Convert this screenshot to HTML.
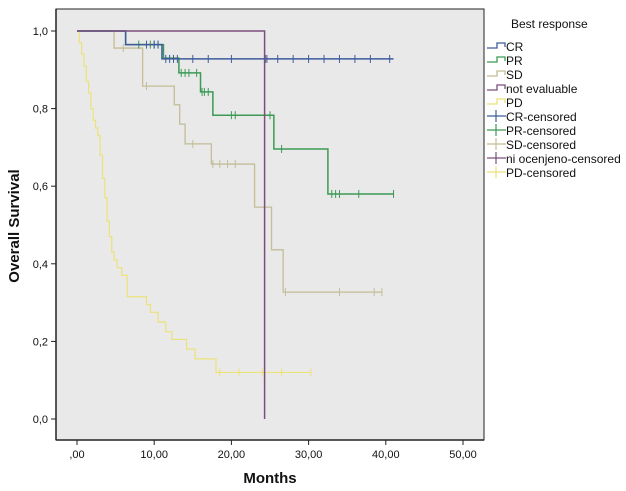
<!DOCTYPE html>
<html><head><meta charset="utf-8"><style>
html,body{margin:0;padding:0;background:#fff;}
svg{display:block;font-family:"Liberation Sans",sans-serif;}
</style></head><body>
<svg id="chart" width="626" height="491" xmlns="http://www.w3.org/2000/svg">
<rect x="56" y="9" width="428" height="431" fill="#e9e9e9" stroke="#222" stroke-width="1"/>
<g id="axes"></g>
<g id="series"></g>
<text transform="translate(19,226) rotate(-90)" text-anchor="middle" font-size="15" font-weight="bold" fill="#111">Overall Survival</text>
<text x="270" y="483" text-anchor="middle" font-size="15" font-weight="bold" fill="#111">Months</text>
<g id="legend"></g>
</svg>
<script>
const xTicks=[0,10,20,30,40,50];
const xTickLabels=[",00","10,00","20,00","30,00","40,00","50,00"];
const yTicks=[0,0.2,0.4,0.6,0.8,1.0];
const yTickLabels=["0,0","0,2","0,4","0,6","0,8","1,0"];
const crTimes=[0,6.3,11,41];
const crSurv=[1,0.965,0.928,0.928];
const crCensor=[9,10,10.5,11.5,12,12.5,13,15,17,20,24.4,24.6,26,28,30,32,34,36,38,40.5];
const prTimes=[0,6.3,11.2,13.2,16,17.6,25.5,32.5,41];
const prSurv=[1,0.965,0.93,0.892,0.843,0.783,0.696,0.58,0.58];
const prCensor=[8,9.5,10,10.5,13.5,14,14.5,15.5,16.2,16.5,17,20,20.5,25,26.5,33,33.5,34,36.5,41];
const sdTimes=[0,4.8,8.5,12.6,13.3,14,17.4,23,25.2,26.7,39.5];
const sdSurv=[1,0.956,0.858,0.81,0.76,0.709,0.657,0.546,0.436,0.327,0.327];
const sdCensor=[6,9,15,17.6,18.5,19.5,20.5,27,34,38.5,39.5];
const neTimes=[0,24.3,24.3];
const neSurv=[1,1,0];
const pdTimes=[0,0.3,0.6,0.9,1.2,1.5,1.8,2.1,2.4,2.7,3,3.3,3.6,3.9,4.2,4.5,4.8,5.2,5.8,6.5,9,9.5,10.5,11.5,12.3,14.2,15.3,18,30.3];
const pdSurv=[1,0.97,0.94,0.91,0.87,0.84,0.8,0.77,0.75,0.73,0.68,0.62,0.57,0.51,0.47,0.43,0.41,0.39,0.37,0.315,0.295,0.275,0.25,0.225,0.205,0.18,0.155,0.12,0.12];
const pdCensor=[18.5,21,24,26.5,30.3];

const NS="http://www.w3.org/2000/svg";
const X=v=>77+v*7.72;
const Y=v=>419-v*388;
function mk(tag,attrs,parent){const e=document.createElementNS(NS,tag);for(const k in attrs)e.setAttribute(k,attrs[k]);parent.appendChild(e);return e;}
const axes=document.getElementById('axes');
mk('line',{x1:56,y1:440,x2:484,y2:440,stroke:'#222','stroke-width':1.5},axes);
mk('line',{x1:56,y1:9,x2:56,y2:440,stroke:'#222','stroke-width':1.5},axes);
xTicks.forEach((t,i)=>{
 const l=mk('line',{x1:X(t),y1:440,x2:X(t),y2:445,stroke:'#222'},axes);
 
 
 const tx=mk('text',{x:X(t),y:458,'text-anchor':'middle','font-size':11,fill:'#111'},axes);
 tx.textContent=xTickLabels[i];
 
 
});
yTicks.forEach((t,i)=>{
 const l=mk('line',{x1:51,y1:Y(t),x2:56,y2:Y(t),stroke:'#222'},axes);
 
 
 const tx=mk('text',{x:48,y:Y(t)+4,'text-anchor':'end','font-size':11,fill:'#111'},axes);
 tx.textContent=yTickLabels[i];
 
 
});
function survAt(times,surv,t){let s=surv[0];for(let i=0;i<times.length;i++){if(times[i]<=t)s=surv[i];}return s;}
const series=document.getElementById('series');
function drawSeries(name,times,surv,censor,color,w){
 let d='M'+X(times[0])+','+Y(surv[0]);
 for(let i=1;i<times.length;i++){d+=' H'+X(times[i])+' V'+Y(surv[i]);}
 const p=mk('path',{d:d,fill:'none',stroke:color,'stroke-width':w},series);
 
 
 censor.forEach(c=>{
  const y=Y(survAt(times,surv,c));
  const m=mk('line',{x1:X(c),y1:y-4,x2:X(c),y2:y+4,stroke:color,'stroke-width':1},series);
  
  
 });
}
drawSeries('pd',pdTimes,pdSurv,pdCensor,'#ece27a',1.2);
drawSeries('sd',sdTimes,sdSurv,sdCensor,'#c4bd98',1.3);
drawSeries('pr',prTimes,prSurv,prCensor,'#3c9a55',1.5);
drawSeries('cr',crTimes,crSurv,crCensor,'#3e5c9c',1.5);
drawSeries('not-evaluable',neTimes,neSurv,[],'#7a4f7e',1.5);
const legend=document.getElementById('legend');
const lt=mk('text',{x:511,y:28,'font-size':12,fill:'#111'},legend);
lt.textContent='Best response';


const legNames=['CR','PR','SD','not evaluable','PD','CR-censored','PR-censored','SD-censored','ni ocenjeno-censored','PD-censored'];
const legColors=['#3e5c9c','#3c9a55','#c4bd98','#7a4f7e','#ece27a','#3e5c9c','#3c9a55','#c4bd98','#7a4f7e','#ece27a'];
legNames.forEach((n,i)=>{
 const y=47+i*14;
 const g=mk('g',{},legend);
 
 
 if(i<5){mk('path',{d:`M487,${y+1} H497 V${y-4} H505 V${y}`,fill:'none',stroke:legColors[i],'stroke-width':1.3},g);}
 else{mk('line',{x1:487,y1:y-1,x2:506,y2:y-1,stroke:legColors[i],'stroke-width':1.2},g);mk('line',{x1:496,y1:y-7,x2:496,y2:y+5,stroke:legColors[i],'stroke-width':1.2},g);}
 const t=mk('text',{x:506,y:y+4,'font-size':12,fill:'#111'},g);
 t.textContent=n;
});
</script>
</body></html>
